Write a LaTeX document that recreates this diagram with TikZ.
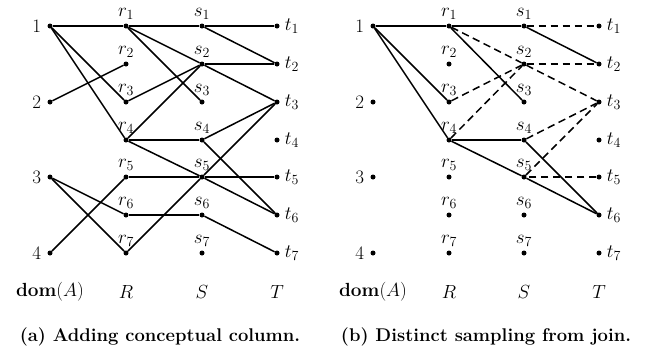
\RequirePackage{fix-cm}
\documentclass[tikz,border=0pt]{standalone}
\DeclareMathSizes{19}{19}{14}{11}
\begin{document}
\begin{tikzpicture}[x=1pt,y=-1pt,
  font=\fontsize{19}{22}\selectfont,
  dot/.style={circle,fill,inner sep=0pt,minimum size=5pt},
  edge/.style={line width=1.5pt},
  dedge/.style={line width=1.5pt,dash pattern=on 7.5pt off 4.5pt},
  lab/.style={inner sep=0pt}]
\useasboundingbox (0,0) rectangle (647,354);
\foreach \p/\dx/\rx/\sx/\tx in {a/50/126/202/277, b/373/449/524/599} {
  \foreach \i/\y in {1/26,2/64,3/102,4/140,5/177,6/215,7/253} {
    \node[dot,label={[lab,label distance=4pt]above:$r_{\i}$}] (\p r\i) at (\rx,\y) {};
    \node[dot,label={[lab,label distance=4pt]above:$s_{\i}$}] (\p s\i) at (\sx,\y) {};
    \node[dot,label={[lab,label distance=5pt]right:$t_{\i}$}] (\p t\i) at (\tx,\y) {};
  }
  \foreach \i/\y in {1/26,2/102,3/177,4/253} {
    \node[dot,label={[lab,label distance=6pt]left:\i}] (\p d\i) at (\dx,\y) {};
  }
  \node (\p dom) at (\dx,292) {\textbf{dom}$(A)$};
  \node (\p R) at (\rx,292) {$R$};
  \node (\p S) at (\sx,292) {$S$};
  \node (\p T) at (\tx,292) {$T$};
}
\node[font=\fontsize{18.4}{22}\selectfont\bfseries] (capa) at (160,337) {(a) Adding conceptual column.};
\node[font=\fontsize{18.4}{22}\selectfont\bfseries] (capb) at (486,337) {(b) Distinct sampling from join.};
% panel (a)
\foreach \u/\v in {d1/r1,r1/s1,s1/t1,d1/r3,d1/r4,d2/r2,r1/s3,r1/s2,s2/t3,s1/t2,s2/t2,r3/s2,r4/s2,r4/s4,s4/t3,r4/s5,s5/t6,s4/t6,r7/s5,s5/t3,r5/s5,s5/t5,d3/r6,d3/r7,d4/r5,r6/s6,s6/t7}
  \draw[edge] (a\u) -- (a\v);
% panel (b)
\foreach \u/\v in {d1/r1,r1/s1,s1/t2,d1/r3,d1/r4,r1/s3,r4/s4,r4/s5,s4/t6,s5/t6}
  \draw[edge] (b\u) -- (b\v);
\foreach \u/\v in {s1/t1,r1/s2,s2/t3,r3/s2,r4/s2,s2/t2,s4/t3,s5/t3,t5/s5}
  \draw[dedge] (b\u) -- (b\v);
\end{tikzpicture}
\end{document}
